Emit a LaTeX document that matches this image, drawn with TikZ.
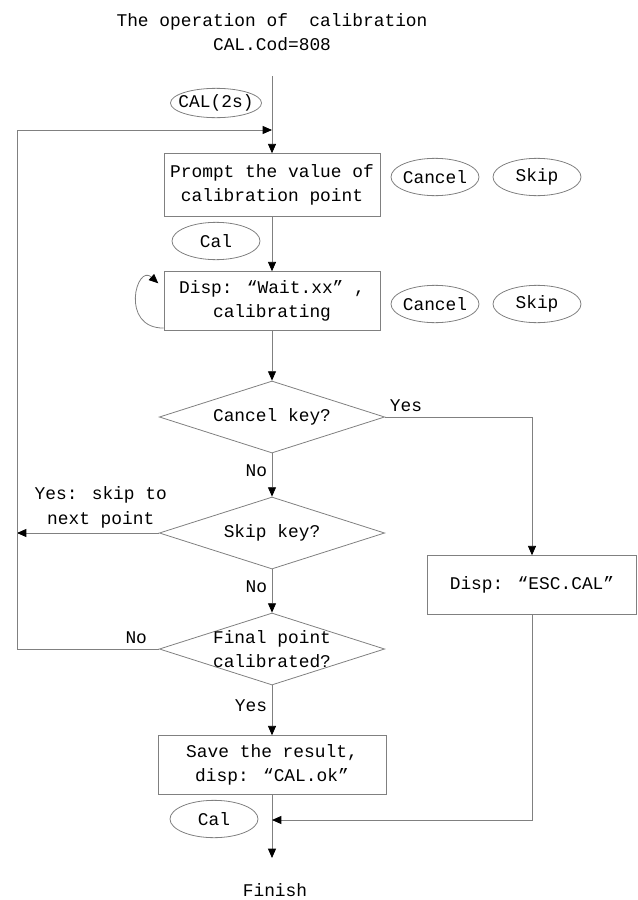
\documentclass[tikz,border=0pt]{standalone}
\usepackage{fontspec}
\setmainfont{Liberation Mono}
\usetikzlibrary{shapes.geometric, arrows.meta}

\begin{document}
\begin{tikzpicture}[x=0.75pt, y=0.75pt, node distance=87pt, auto,
  every node/.style={font=\fontsize{13.4pt}{18.5pt}\selectfont, text=black},
  stepbox/.style={draw=black!50, line width=0.6pt, rectangle, align=center, minimum width=162pt, minimum height=44pt, inner sep=2pt},
  ask/.style={draw=black!50, line width=0.6pt, diamond, align=center, aspect=3, minimum width=169pt, minimum height=54pt, inner sep=-8pt},
  keyb/.style={draw=black!50, line width=0.6pt, ellipse, inner xsep=-4pt, inner ysep=0pt, minimum width=66pt, minimum height=28pt},
  flow/.style={draw=black!50, line width=0.6pt, -{Triangle[black, length=7pt, width=6pt]}},
  wire/.style={draw=black!50, line width=0.6pt}]
\useasboundingbox (0,0) rectangle (638,-900);
\node  (title)[align=center] at (272,-32) {The operation of\ \ calibration\\CAL.Cod=808};
\coordinate (top) at (272,-76);
\coordinate (join) at (272,-130);
\coordinate (loopx) at (17,-130);
\node  (cal2s)[keyb, minimum height=22pt] at (216,-103) {CAL(2s)};
% main column
\node  (b1)[stepbox, minimum height=47pt] at (272,-185) {Prompt the value of\\calibration point};
\node  (b2)[stepbox] [below of = b1] {Disp: “Wait.xx” ,\\calibrating};
\node  (d1)[ask] [below of = b2] {Cancel key?};
\node  (d2)[ask] [below of = d1] {Skip key?};
\node  (d3)[ask] [below of = d2] {Final point\\calibrated?};
\node  (save)[stepbox, minimum width=171pt] [below of = d3] {Save the result,\\disp: “CAL.ok”};
\node  (esc)[stepbox, minimum width=157pt] at (532,-585) {Disp: “ESC.CAL”};
\coordinate (join2) at (272,-820);
\coordinate (end) at (272,-858);
\node  (fin) at (275,-890) {Finish};
% keys
\node  (cancel1)[keyb] at (435,-177) {Cancel};
\node  (skip1)[keyb] at (537,-177) {Skip};
\node  (cal1)[keyb] at (216,-241) {Cal};
\node  (cancel2)[keyb] at (435,-304) {Cancel};
\node  (skip2)[keyb] at (537,-304) {Skip};
\node  (cal2)[keyb] at (214,-819) {Cal};
% connectors
\draw[wire] (top) -- (join);
\draw[flow] (join) -- (b1);
\draw[flow] (b1) -- (b2);
\draw[flow] ([yshift=2pt]b2.south west) .. controls +(-44,0) and +(-22,20) .. ([xshift=-4pt, yshift=-9pt]b2.north west);
\draw[flow] (b2) -- (d1);
\draw[flow] (d1) -- node[left, pos=0.4] {No} (d2);
\draw[flow] (d2) -- node[left, pos=0.4] {No} (d3);
\draw[flow] (d3) -- node[left, pos=0.4] {Yes} (save);
\draw[flow] (d1.east) -| node[above right, pos=0] {Yes} (esc.north);
\draw[flow] (d2.west) -- node[above, align=center, pos=0.41] {Yes: skip to\\next point} (d2.west -| loopx);
\draw[flow] (d3.west) -- node[above, pos=0.16] {No} (d3.west -| loopx) -- (loopx) -- (join);
\draw[wire] (save) -- (join2);
\draw[flow] (join2) -- (end);
\draw[flow] (esc.south) |- (join2);
\end{tikzpicture}
\end{document}
